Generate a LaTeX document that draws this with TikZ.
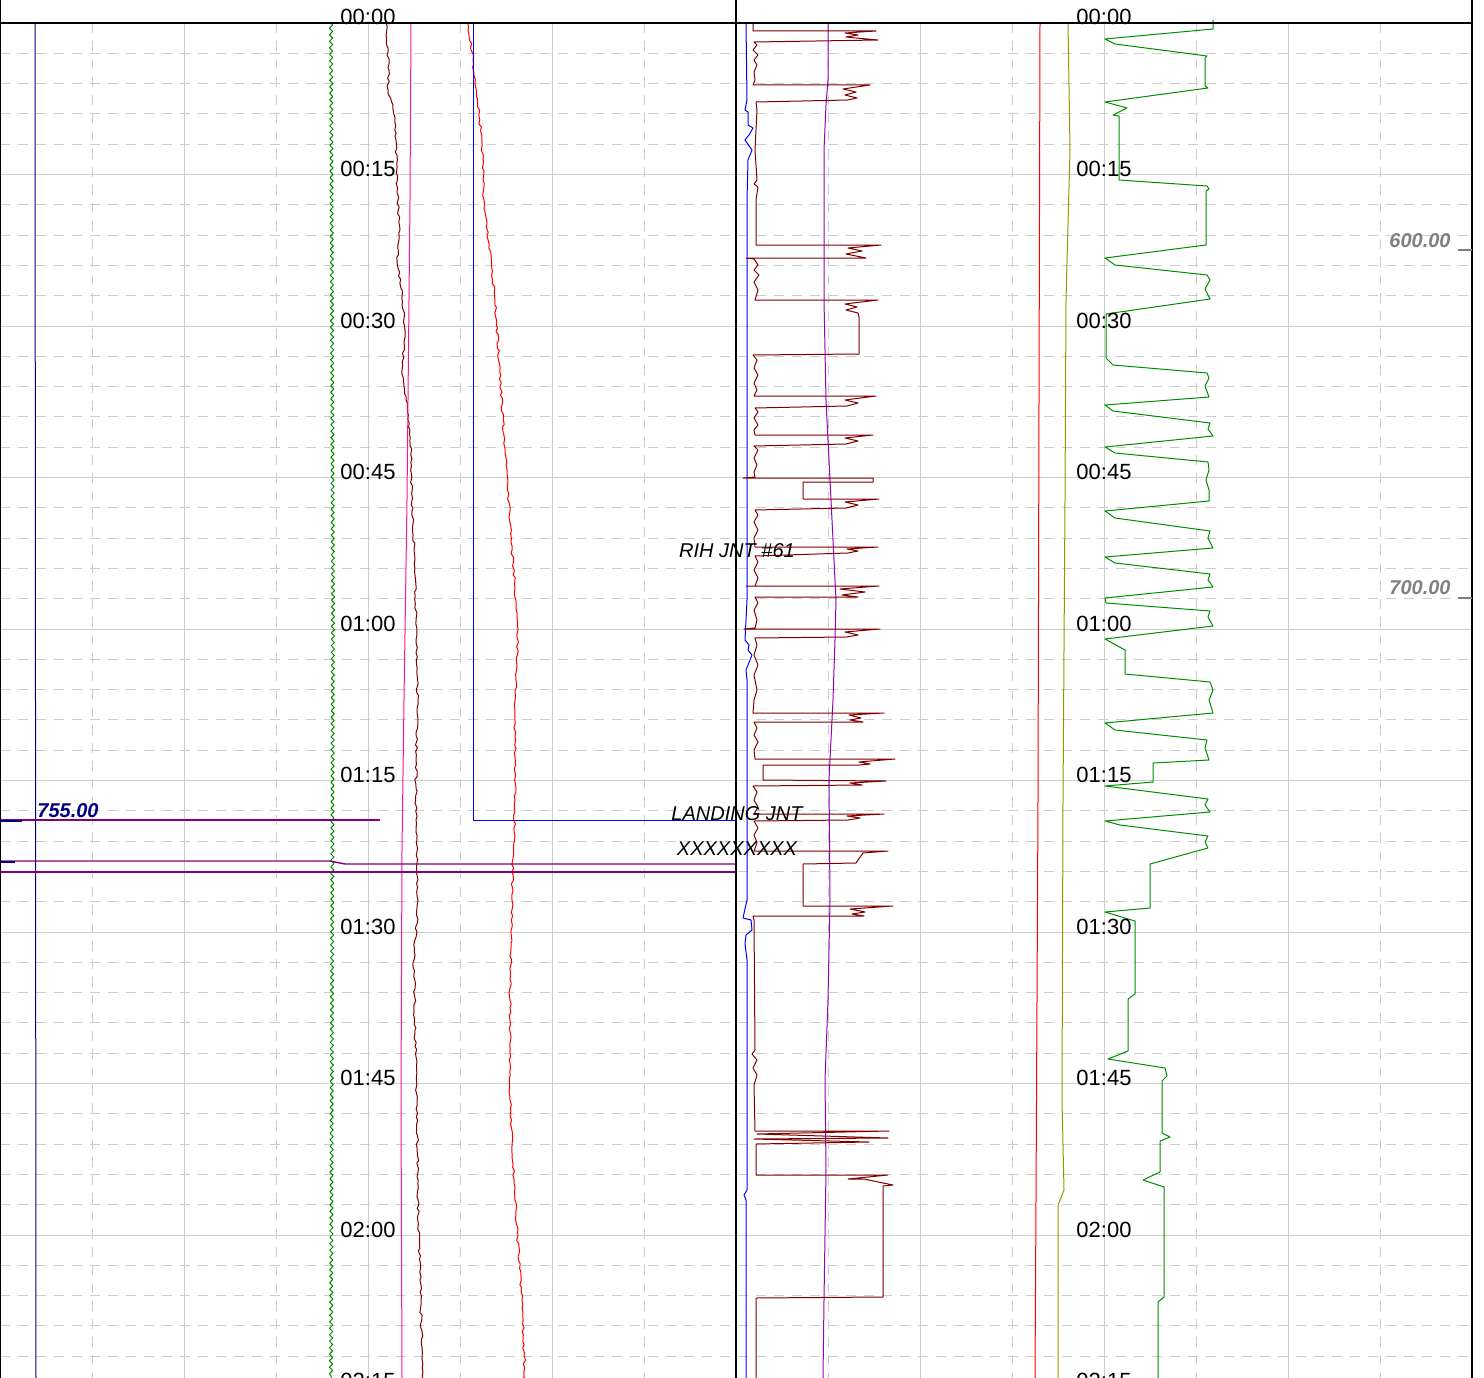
\documentclass[tikz,border=0pt]{standalone}
\usepackage{fontspec}
\setmainfont{Liberation Sans}
\usetikzlibrary{decorations.pathmorphing}

\definecolor{gridgray}{RGB}{204,204,204}
\definecolor{tnavy}{RGB}{0,0,128}
\definecolor{tgreen}{RGB}{0,140,0}
\definecolor{tmaroon}{RGB}{128,0,0}
\definecolor{tpink}{RGB}{255,20,147}
\definecolor{tpurple}{RGB}{128,0,128}
\definecolor{tviolet}{RGB}{150,0,190}
\definecolor{tolive}{RGB}{150,150,0}
\definecolor{lblgray}{RGB}{128,128,128}

\begin{document}
\begin{tikzpicture}[x=1pt, y=-1pt, line join=round,
  minorgrid/.style={gridgray, line width=1pt, dash pattern=on 10pt off 8pt},
  majorgrid/.style={gridgray, line width=1pt},
  trace/.style={line width=1pt},
  jitter/.style={decorate, decoration={random steps, segment length=4pt, amplitude=1.2pt}},
  wiggle/.style={decorate, decoration={snake, segment length=6.5pt, amplitude=1.6pt}},
  timelbl/.style={anchor=base, inner sep=0pt, font=\fontsize{22}{24}\selectfont},
  notelbl/.style={anchor=base, inner sep=0pt, font=\fontsize{20}{22}\selectfont\itshape},
  vallbl/.style={anchor=base, inner sep=0pt, font=\fontsize{20}{22}\selectfont\bfseries\itshape}]
\useasboundingbox (0,0) rectangle (1484,1378);
\clip (0,0) rectangle (1484,1378);

% grid
\foreach \k in {1,...,44} \draw[minorgrid] (0,{23+30.3*\k}) -- (1472,{23+30.3*\k});
\foreach \k in {1,...,8} \draw[majorgrid] (0,{23+151.5*\k}) -- (1472,{23+151.5*\k});
\foreach \x in {92,276,460,644,828,1012,1196,1380} \draw[minorgrid] (\x,23) -- (\x,1378);
\foreach \x in {184,368,552,920,1104,1288} \draw[majorgrid] (\x,23) -- (\x,1378);

% left track
\draw[trace, tnavy] (35,23) -- (36,1378);
\draw[trace, tgreen, wiggle] (331,23) -- (333,600) -- (332,1000) -- (331,1378);
\draw[trace, tmaroon, jitter] (386,23) -- (389,70) -- (388,90) -- (393,105) -- (396,140) -- (397,190) -- (400,230) -- (397,260) -- (402,290) -- (405,330) -- (402,370) -- (406,400) -- (410,430) -- (412,500) -- (415,560) -- (416,640) -- (418,700) -- (416,760) -- (416,820) -- (418,900) -- (414,960) -- (415,1030) -- (417,1100) -- (418,1200) -- (420,1280) -- (423,1378);
\draw[trace, tpink] (411,23) -- (410,200) -- (407,500) -- (404,700) -- (402,850) -- (401,1100) -- (402,1378);
\draw[trace, red, jitter] (468,23) -- (473,60) -- (482,143) -- (484,200) -- (495,300) -- (505,450) -- (512,550) -- (518,630) -- (515,700) -- (515,800) -- (512,900) -- (510,1000) -- (510,1100) -- (515,1200) -- (522,1300) -- (525,1378);
\draw[trace, blue] (473,23) -- (473,820) -- (736,820);
\draw[tpurple, line width=1.6pt] (0,820) -- (380,820);
\draw[tpurple, line width=1.4pt] (0,861) -- (330,861) -- (345,864) -- (736,864);
\draw[tpurple, line width=1.4pt] (0,872) -- (736,872);
\draw[tnavy, line width=2pt] (0,821) -- (22,821);
\draw[tnavy, line width=2pt] (0,862) -- (15,862);

% right track
\draw[trace, blue] (746,23) -- (747,100) -- (745,110) -- (748,112) -- (748,125) -- (753,128) -- (749,135) -- (745,140) -- (752,150) -- (748,160) -- (747,200) -- (747,600) -- (745,640) -- (749,645) -- (748,650) -- (752,655) -- (746,670) -- (747,680) -- (747,900) -- (743,918) -- (751,920) -- (752,930) -- (746,935) -- (745,944) -- (747,960) -- (747,1190) -- (744,1195) -- (746,1200) -- (746,1378);
\draw[trace, tviolet] (828,23) -- (828,80) -- (826,105) -- (824,150) -- (824,300) -- (826,400) -- (830,480) -- (834,560) -- (836,600) -- (835,640) -- (833,700) -- (829,780) -- (830,900) -- (828,1000) -- (825,1080) -- (826,1170) -- (824,1300) -- (823,1378);
\draw[trace, tmaroon] (753,23) -- (753,31) -- (876,31) -- (845,33) -- (858,35) -- (846,37) -- (856,38) -- (878,40) -- (754,42)
  -- (757,45) -- (753,50) -- (758,55) -- (754,60) -- (757,65) -- (754,72) -- (755,80) -- (753,85)
  -- (870,85) -- (843,89) -- (856,92) -- (845,95) -- (857,98) -- (848,100) -- (756,102)
  -- (757,110) -- (755,150) -- (757,180) -- (754,184) -- (758,187) -- (756,200) -- (756,245)
  -- (881,245) -- (848,248) -- (862,251) -- (846,254) -- (866,258) -- (746,258)
  -- (754,259) -- (758,265) -- (754,270) -- (759,275) -- (754,282) -- (758,290) -- (755,300)
  -- (878,300) -- (845,304) -- (857,307) -- (846,310) -- (858,313) -- (859,317) -- (859,354) -- (753,355)
  -- (757,360) -- (754,368) -- (758,375) -- (754,383) -- (757,390) -- (754,396)
  -- (876,396) -- (845,400) -- (858,403) -- (847,406) -- (755,408)
  -- (758,412) -- (754,418) -- (758,425) -- (754,430) -- (755,435)
  -- (873,435) -- (845,438) -- (858,441) -- (846,444) -- (754,446)
  -- (758,450) -- (754,458) -- (757,465) -- (754,472) -- (755,477)
  -- (743,478) -- (873,478) -- (873,482) -- (803,482) -- (803,499) -- (879,499) -- (845,502) -- (858,505) -- (846,508) -- (755,510)
  -- (758,515) -- (754,522) -- (758,530) -- (754,538) -- (755,547)
  -- (878,547) -- (847,549) -- (858,551) -- (848,553) -- (755,556)
  -- (758,562) -- (754,570) -- (758,578) -- (755,586)
  -- (746,586) -- (879,586) -- (840,589) -- (865,592) -- (842,595) -- (858,597) -- (755,597)
  -- (758,603) -- (754,610) -- (757,620) -- (755,628)
  -- (744,629) -- (880,629) -- (845,632) -- (858,635) -- (847,637) -- (755,638)
  -- (757,645) -- (754,655) -- (758,665) -- (754,675) -- (757,690) -- (754,700) -- (753,713)
  -- (884,713) -- (849,715) -- (861,718) -- (850,720) -- (863,722) -- (754,722)
  -- (757,728) -- (754,735) -- (758,742) -- (754,750) -- (755,759)
  -- (895,759) -- (859,762) -- (870,764) -- (859,765) -- (763,765) -- (763,780) -- (886,781) -- (850,783) -- (862,785) -- (753,786)
  -- (757,792) -- (754,800) -- (758,807) -- (754,814)
  -- (884,814) -- (847,816) -- (860,818) -- (848,820) -- (754,821)
  -- (758,828) -- (754,835) -- (757,843) -- (754,851)
  -- (888,851) -- (863,853) -- (858,860) -- (856,863) -- (803,864) -- (803,906) -- (893,906) -- (850,909) -- (865,912) -- (852,914) -- (864,916) -- (753,916)
  -- (754,920) -- (755,1050) -- (752,1054) -- (757,1060) -- (753,1068) -- (757,1075) -- (754,1085) -- (755,1131)
  -- (889,1131) -- (757,1134) -- (888,1138) -- (754,1139) -- (869,1142) -- (756,1144) -- (756,1175)
  -- (888,1175) -- (848,1179) -- (864,1179) -- (883,1183) -- (893,1185) -- (883,1186) -- (883,1297) -- (756,1298) -- (756,1378);
\draw[trace, red] (1040,23) -- (1039,400) -- (1038,800) -- (1036,1200) -- (1035,1378);
\draw[trace, tolive] (1068,23) -- (1070,150) -- (1066,300) -- (1065,500) -- (1063,800) -- (1062,1100) -- (1064,1190) -- (1058,1205) -- (1058,1378);
\draw[trace, tgreen] (1213,20) -- (1213,29) -- (1105,39) -- (1115,44) -- (1207,56) -- (1205,58) -- (1205,86) -- (1208,88) -- (1105,102) -- (1127,108) -- (1113,115) -- (1119,116) -- (1119,180) -- (1207,186) -- (1209,189) -- (1206,191) -- (1206,245)
  -- (1105,258) -- (1115,265) -- (1207,275) -- (1210,280) -- (1205,289) -- (1210,299) -- (1106,314) -- (1106,358) -- (1113,365) -- (1207,373) -- (1209,378) -- (1205,386) -- (1209,397)
  -- (1105,405) -- (1113,411) -- (1210,423) -- (1208,429) -- (1213,436) -- (1105,447) -- (1115,453) -- (1208,462) -- (1209,470) -- (1206,480) -- (1209,490) -- (1209,501)
  -- (1105,511) -- (1115,518) -- (1210,531) -- (1208,538) -- (1213,548) -- (1105,557) -- (1115,563) -- (1210,574) -- (1208,580) -- (1213,587) -- (1105,598) -- (1106,603) -- (1210,611) -- (1208,617) -- (1213,626)
  -- (1105,639) -- (1125,650) -- (1125,674) -- (1210,682) -- (1213,690) -- (1209,700) -- (1213,713) -- (1105,723) -- (1115,730) -- (1207,740) -- (1205,748) -- (1209,760) -- (1153,763) -- (1153,782)
  -- (1105,786) -- (1208,799) -- (1205,805) -- (1210,812) -- (1105,821) -- (1120,825) -- (1208,836) -- (1205,842) -- (1208,848) -- (1197,851) -- (1150,864) -- (1150,908)
  -- (1105,912) -- (1135,921) -- (1135,994) -- (1128,999) -- (1128,1051) -- (1108,1059) -- (1165,1068) -- (1167,1076) -- (1162,1081) -- (1162,1133) -- (1170,1137) -- (1160,1141) -- (1160,1172)
  -- (1143,1180) -- (1164,1187) -- (1164,1297) -- (1158,1302) -- (1158,1378);

% frame
\draw[line width=2.5pt] (0,23) -- (1472,23);
\draw[line width=1.5pt] (0,0) -- (0,1378);
\draw[line width=1.5pt] (736,0) -- (736,1378);
\draw[line width=2pt] (1472,0) -- (1472,1378);
\draw[lblgray, line width=1.2pt] (1458,250) -- (1472,250);
\draw[lblgray, line width=1.2pt] (1458,598) -- (1472,598);

% labels
\foreach \t [count=\j from 0] in {00:00,00:15,00:30,00:45,01:00,01:15,01:30,01:45,02:00,02:15} {
  \node[timelbl] (tl\j) at (368,{25+151.5*\j}) {\t};
  \node[timelbl] (tr\j) at (1104,{25+151.5*\j}) {\t};
}
\node[vallbl, lblgray] (v600) at (1420,247) {600.00};
\node[vallbl, lblgray] (v700) at (1420,594) {700.00};
\node[vallbl, tnavy] (v755) at (68,817) {755.00};
\node[notelbl] (rih) at (737,557) {RIH JNT \#61};
\node[notelbl] (land) at (737,820) {LANDING JNT};
\node[notelbl] (xxx) at (737,855) {XXXXXXXXX};
\end{tikzpicture}
\end{document}
